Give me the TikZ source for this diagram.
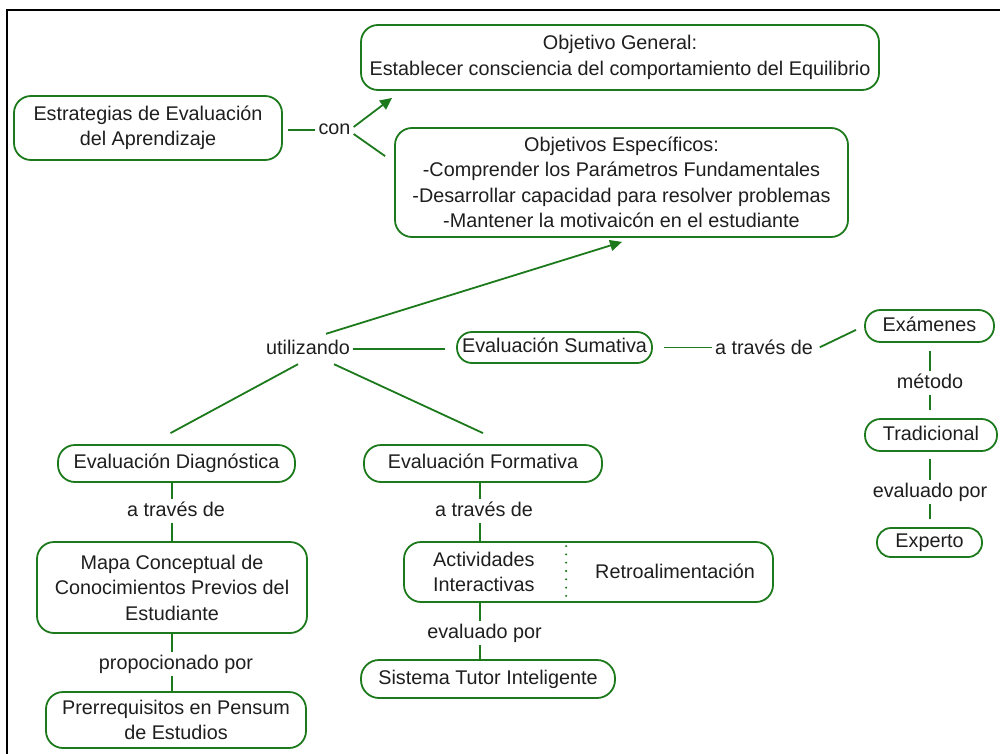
\documentclass[tikz,border=0pt]{standalone}
\usepackage{fontspec}
\setmainfont{Liberation Sans}
\usetikzlibrary{arrows.meta,calc}
\definecolor{mapgreen}{RGB}{28,122,28}
\definecolor{maptext}{RGB}{30,30,30}

\begin{document}
\begin{tikzpicture}[x=1pt,y=-1pt,
  every node/.style={font=\fontsize{19.8}{25.5}\selectfont, text=maptext},
  concept/.style={draw=mapgreen, line width=1.8pt, align=center, inner sep=0pt, rounded corners=17pt},
  pill/.style={concept, rounded corners=14pt, text height=14pt, text depth=4pt},
  linkword/.style={inner xsep=3pt, inner ysep=3pt, text height=14pt, text depth=4pt, anchor=base},
  link/.style={draw=mapgreen, line width=1.8pt},
  linkarrow/.style={link, -{Triangle[length=12pt,width=11pt]}},
  divider/.style={draw=mapgreen, line width=2.3pt, line cap=round, dash pattern=on 0pt off 8.3pt},
]
\useasboundingbox (0,0) rectangle (1000,754);

% frame
\draw[line width=2pt] (7,754) -- (7,10) -- (1000,10);

% concepts
\node[concept, minimum width=268pt, minimum height=64pt] (est) at (148,128)
  {Estrategias de Evaluación\\del Aprendizaje};
\node[concept, minimum width=518pt, minimum height=65pt] (gen) at (620,57.5)
  {Objetivo General:\\Establecer consciencia del comportamiento del Equilibrio};
\node[concept, minimum width=453pt, minimum height=109pt] (esp) at (621.5,182.5)
  {Objetivos Específicos:\\-Comprender los Parámetros Fundamentales\\-Desarrollar capacidad para resolver problemas\\-Mantener la motivaicón en el estudiante};

\node[pill, rounded corners=15pt, minimum width=195pt, minimum height=31pt] (sum) at (554.5,347.5) {Evaluación Sumativa};
\node[pill, rounded corners=15.5pt, minimum width=129pt, minimum height=32pt] (exa) at (929.5,326) {Exámenes};
\node[pill, rounded corners=15.5pt, minimum width=132pt, minimum height=32pt] (tra) at (931,435) {Tradicional};
\node[pill, minimum width=105pt, minimum height=29pt] (exp) at (929.5,542.5) {Experto};

\node[pill, rounded corners=17pt, minimum width=237pt, minimum height=37pt] (diag) at (176.5,463.5) {Evaluación Diagnóstica};
\node[concept, minimum width=270pt, minimum height=91pt] (mapa) at (172,587.5)
  {Mapa Conceptual de\\Conocimientos Previos del\\Estudiante};
\node[concept, minimum width=260pt, minimum height=56pt] (pre) at (176,720)
  {Prerrequisitos en Pensum\\de Estudios};

\node[pill, rounded corners=17pt, minimum width=238pt, minimum height=37pt] (form) at (483,463.5) {Evaluación Formativa};
\node[concept, minimum width=369pt, minimum height=60pt] (act) at (588.5,572) {};
\node[anchor=west, align=left, inner sep=3pt] (actv) at (430,572) {Actividades\\Interactivas};
\node (retro) at (675,571) {Retroalimentación};
\draw[divider] ($(act.north west)+(163,5)$) -- ($(act.south west)+(163,-7)$);
\node[pill, rounded corners=18pt, minimum width=254pt, minimum height=38pt] (sis) at (488,679) {Sistema Tutor Inteligente};

% linking words
\node[linkword] (con) at (334.5,135) {con};
\node[linkword] (util) at (308,354) {utilizando};
\node[linkword] (ats) at (764,354) {a través de};
\node[linkword] (met) at (930,388) {método};
\node[linkword] (evp) at (930,497) {evaluado por};
\node[linkword] (atd) at (176,516) {a través de};
\node[linkword] (prop) at (176,669) {propocionado por};
\node[linkword] (atf) at (484,516) {a través de};
\node[linkword] (evf) at (484.5,638) {evaluado por};

% connectors: objectives
\draw[link, shorten <=5pt] (con.west -| est.east) -- (con.west);
\draw[linkarrow] ($(con.east)+(0,-3)$) -- ($(gen.south west)+(32,7)$);
\draw[link] ($(con.east)+(0,4)$) -- ($(esp.north west)+(-9,29)$);

% connectors: utilizando
\draw[linkarrow] ($(util.north)+(18,-3)$) -- ($(esp.south)+(0.5,4)$);
\draw[link, shorten >=11pt] (util.east) -- (util.east -| sum.west);
\draw[link] ($(util.south)+(-10,3)$) -- ($(diag.north)+(-6,-11)$);
\draw[link] ($(util.south)+(26,3)$) -- ($(form.north)+(0,-11)$);

% connectors: summative branch
\draw[link, shorten <=11pt] (sum.east) -- (sum.east -| ats.west);
\draw[link, shorten <=4pt, shorten >=9pt] (ats.east) -- (exa.west);
\draw[link, shorten <=8pt] (met.north |- exa.south) -- (met.north);
\draw[link, shorten >=8pt] (met.south) -- (met.south |- tra.north);
\draw[link, shorten <=7pt] (evp.north |- tra.south) -- (evp.north);
\draw[link, shorten >=8pt] (evp.south) -- (evp.south |- exp.north);

% connectors: diagnostic branch
\draw[link] (diag.south -| mapa.north) -- (atd.north -| mapa.north);
\draw[link] (atd.south -| mapa.north) -- (mapa.north);
\draw[link] (mapa.south) -- (prop.north -| mapa.south);
\draw[link] (prop.south -| mapa.south) -- (pre.north -| mapa.south);

% connectors: formative branch
\draw[link] ($(form.south)+(-3,0)$) -- ($(atf.north)+(-4,0)$);
\draw[link] ($(atf.south)+(-4,0)$) -- ($(atf.south |- act.north)+(-4,0)$);
\draw[link] ($(act.south -| atf.south)+(-4,0)$) -- ($(evf.north)+(-4.5,0)$);
\draw[link] ($(evf.south)+(-4.5,0)$) -- ($(evf.south |- sis.north)+(-4.5,0)$);
\end{tikzpicture}
\end{document}
